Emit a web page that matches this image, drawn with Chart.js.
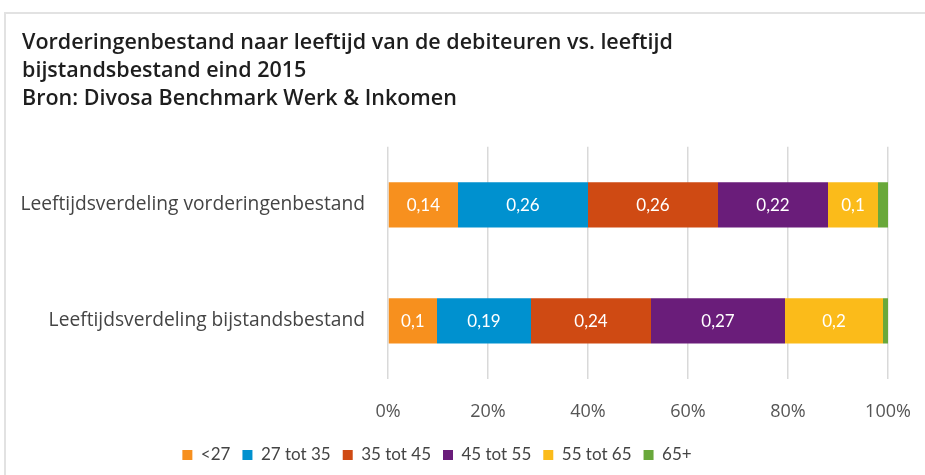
<!DOCTYPE html>
<html>
<head>
<meta charset="utf-8">
<script src="https://cdn.jsdelivr.net/npm/chart.js@4"></script>
<style>
  html, body { margin: 0; padding: 0; background: #fff; }
  #wrap { position: relative; width: 925px; height: 475px; overflow: hidden; }
  #frame { position: absolute; left: 4px; top: 12px; right: -4px; bottom: -4px;
           border-top: 2px solid #e2e2e2; border-left: 2px solid #e2e2e2; }
  #chart { position: absolute; left: 0; top: 0; }
</style>
</head>
<body>
<div id="wrap">
  <div id="frame"></div>
  <canvas id="chart" width="925" height="475"></canvas>
</div>
<script>
// categories (rows)
var categories = ['Leeftijdsverdeling vorderingenbestand', 'Leeftijdsverdeling bijstandsbestand'];

// age groups (series)
var ageGroups = ['<27', '27 tot 35', '35 tot 45', '45 tot 55', '55 tot 65', '65+'];

// share per age group, per row
var under27   = [0.14, 0.098];
var age27to35 = [0.26, 0.188];
var age35to45 = [0.26, 0.24];
var age45to55 = [0.22, 0.268];
var age55to65 = [0.10, 0.196];
var age65plus = [0.02, 0.01];

// x axis ticks
var xTicks = [0, 0.2, 0.4, 0.6, 0.8, 1];

var seriesValues = [under27, age27to35, age35to45, age45to55, age55to65, age65plus];
var seriesColors = ['#F7901E', '#0091CF', '#CF4A13', '#6A1D7A', '#FBBB1A', '#69A83B'];

function formatValue(v) {
    return String(Math.round(v * 100) / 100).replace('.', ',');
}

// draws the value in the middle of each bar segment
var barLabels = {
    id: 'barLabels',
    afterDatasetsDraw: function (chart) {
        var ctx = chart.ctx;
        ctx.save();
        ctx.fillStyle = '#fff';
        ctx.font = '17px Lato';
        ctx.textAlign = 'center';
        ctx.textBaseline = 'middle';
        chart.data.datasets.forEach(function (ds, i) {
            var meta = chart.getDatasetMeta(i);
            meta.data.forEach(function (bar, j) {
                if (Math.abs(bar.x - bar.base) < 25) return;
                ctx.fillText(formatValue(ds.data[j]), (bar.x + bar.base) / 2, bar.y + 1);
            });
        });
        ctx.restore();
    }
};

// nudge legend to the left like the original
var legendShift = {
    id: 'legendShift',
    afterLayout: function (chart) {
        var dx = -18;
        chart.legend.left += dx;
        chart.legend.right += dx;
    }
};

var datasets = ageGroups.map(function (name, i) {
    return {
        label: name,
        data: seriesValues[i],
        backgroundColor: seriesColors[i],
        borderWidth: 0,
        categoryPercentage: 0.39,
        barPercentage: 1
    };
});

new Chart(document.getElementById('chart').getContext('2d'), {
    type: 'bar',
    data: { labels: categories, datasets: datasets },
    options: {
        indexAxis: 'y',
        responsive: false,
        animation: false,
        layout: { padding: { left: 22, right: 37, top: 0, bottom: 1.5 } },
        scales: {
            x: {
                stacked: true,
                min: 0,
                max: 1,
                afterBuildTicks: function (scale) {
                    scale.ticks = xTicks.map(function (v) { return { value: v }; });
                },
                afterFit: function (scale) {
                    scale.height = 55.5;
                    scale.paddingLeft = 0;
                    scale.paddingRight = 0;
                },
                grid: { color: '#d9d9d9', lineWidth: 1.5, drawTicks: false },
                border: { display: false },
                ticks: {
                    padding: 22,
                    color: '#555',
                    font: { family: 'Open Sans', size: 18 },
                    callback: function (v) { return Math.round(v * 100) + '%'; }
                }
            },
            y: {
                stacked: true,
                afterFit: function (scale) { scale.width = 366; },
                grid: { display: false, drawTicks: false },
                border: { display: false },
                ticks: {
                    padding: 23,
                    color: '#444',
                    font: { family: 'Open Sans', size: 19.2 }
                }
            }
        },
        plugins: {
            title: {
                display: true,
                align: 'start',
                text: [
                    'Vorderingenbestand naar leeftijd van de debiteuren vs. leeftijd',
                    'bijstandsbestand eind 2015',
                    'Bron: Divosa Benchmark Werk & Inkomen'
                ],
                color: '#1e1e1e',
                font: { family: 'Open Sans', size: 21.5, weight: '600', lineHeight: 1.3 },
                padding: { top: 29, bottom: 34 }
            },
            legend: {
                position: 'bottom',
                labels: {
                    boxWidth: 10,
                    boxHeight: 10,
                    padding: 12,
                    color: '#444',
                    font: { family: 'Lato', size: 17 }
                }
            },
            tooltip: { enabled: false }
        }
    },
    plugins: [barLabels, legendShift]
});
</script>
</body>
</html>
